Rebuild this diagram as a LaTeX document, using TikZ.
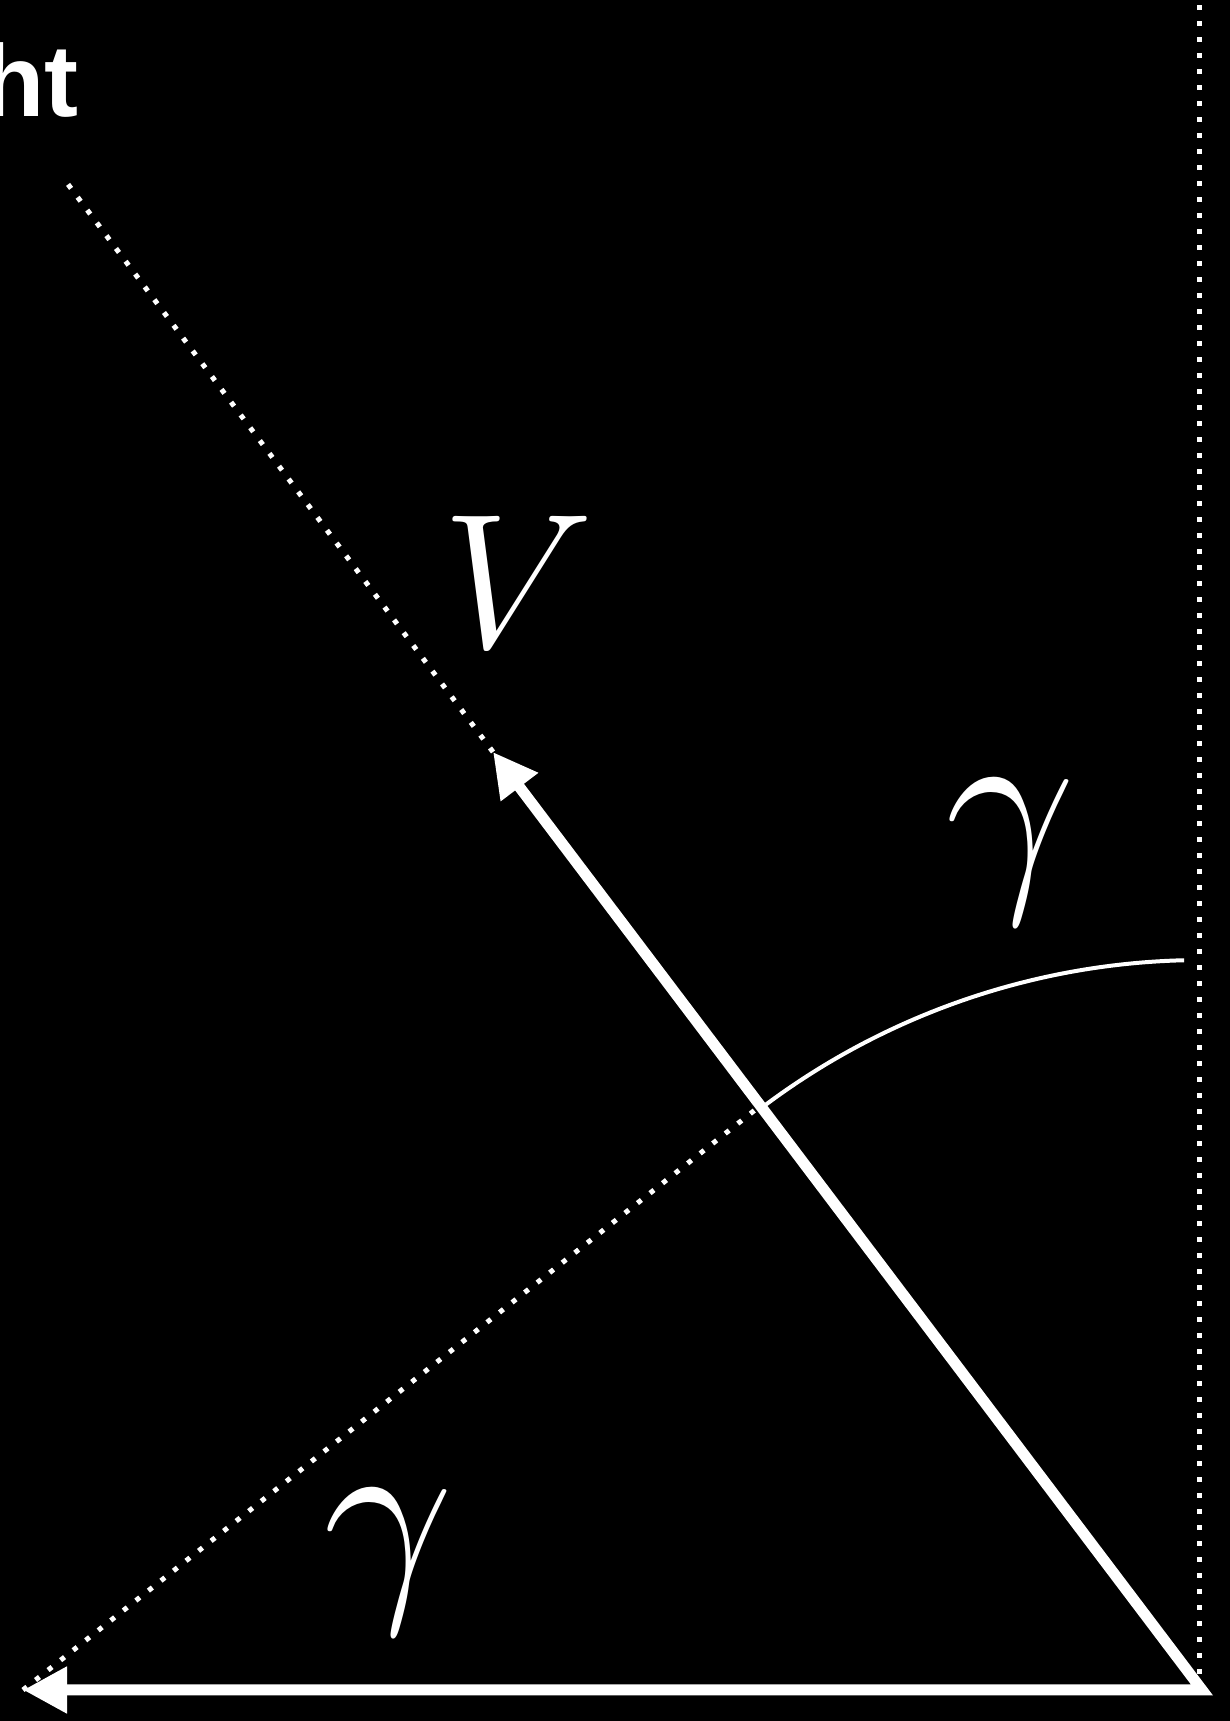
\documentclass[tikz,border=0pt]{standalone}
\usepackage{fix-cm}
\usepackage{fontspec}
\newfontfamily\labelsans{Liberation Sans}
\usetikzlibrary{arrows.meta,calc,positioning}

\begin{document}
\begin{tikzpicture}[x=0.5pt,y=0.5pt,
    vec/.style={white,line width=5.5pt,
      {Triangle[length=22pt,width=22pt]}-{Triangle[length=22pt,width=22pt]}},
    guide/.style={white,line width=2.5pt,dash pattern=on 2.5pt off 5.5pt},
    sym/.style={text=white,inner sep=0pt,font=\fontsize{96}{100}\selectfont},
    gsym/.style={sym,font=\fontsize{116}{120}\selectfont}]
  \useasboundingbox (0,0) rectangle (1230,1721);
  \fill[black] (0,0) rectangle (1230,1721);
  \clip (0,0) rectangle (1230,1721);
  \coordinate (corner) at (1202,31);
  \coordinate (htip) at (23,31);
  \coordinate (vtip) at (493,969);
  \coordinate (vend) at (67,1538);
  \coordinate (cross) at (760,615);
  \coordinate (vbot) at (1199,31);
  \coordinate (vtop) at (1199,1721);
  % dotted guides
  \draw[guide] (vbot)--(vtop);
  \draw[guide] (vtip)--(vend);
  \draw[guide] (htip)--(cross);
  % velocity and horizontal
  \draw[vec] (vtip)--(corner)--(htip);
  % angle arc
  \draw[white,line width=2pt] (corner) ++(91.4:730) arc (91.4:127.1:730);
  \node[sym] (vlab) at (518,1139) {$V$};
  \node[gsym] (gtop) at (1011,869) {$\gamma$};
  \node[gsym] (gbot) at (389,159) {$\gamma$};
  \node[anchor=base west,text=white,inner sep=0pt,
    font=\labelsans\bfseries\fontsize{51}{52}\selectfont] (title) at (-18,1604) {ht};
\end{tikzpicture}
\end{document}
